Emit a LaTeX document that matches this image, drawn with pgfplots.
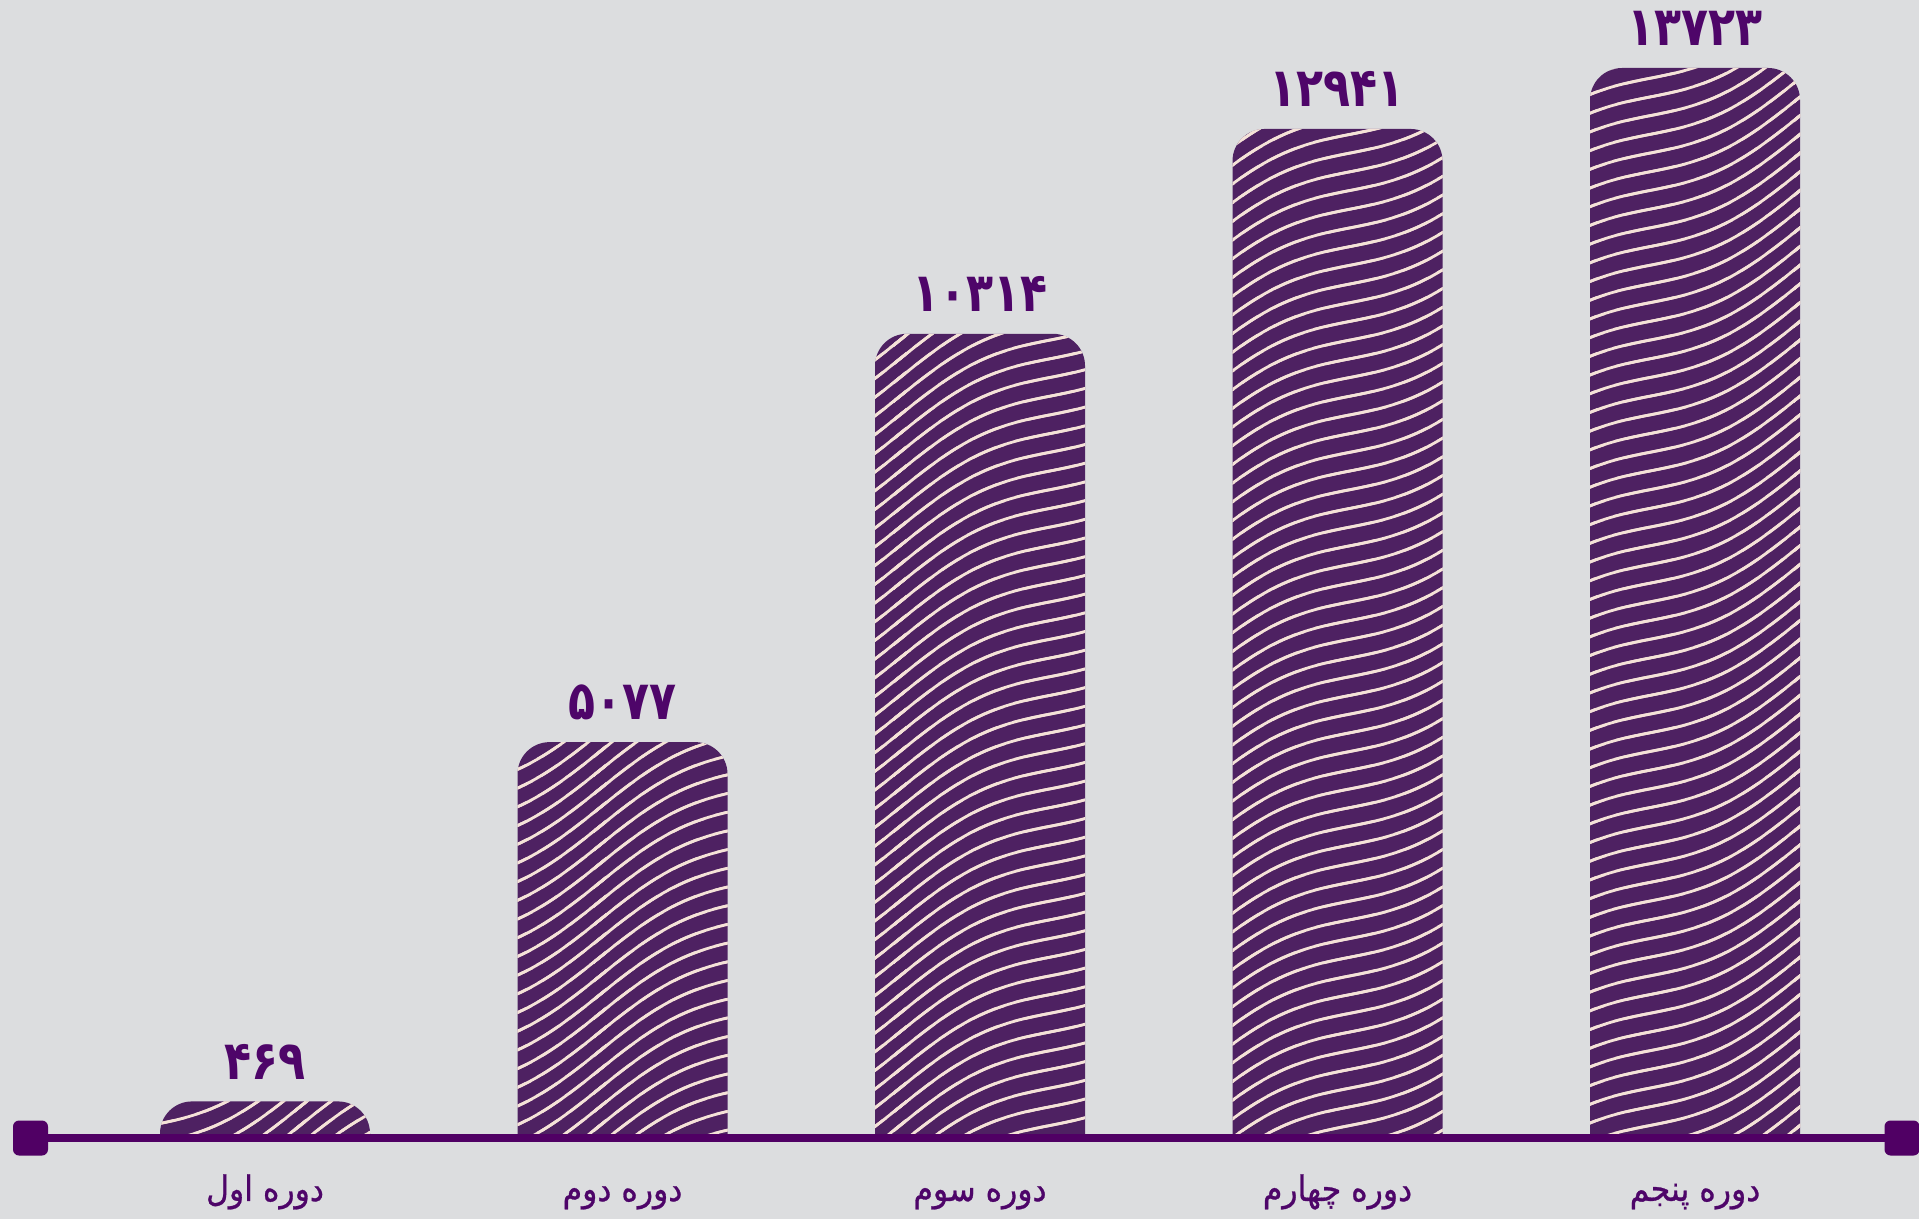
\documentclass[border=0pt]{standalone}
\usepackage{pgfplots}
\pgfplotsset{compat=1.18}
\usetikzlibrary{patterns.meta}
\usepackage{fontspec}
\TeXXeTstate=1
\newfontfamily\arabicfont[Script=Arabic,FakeStretch=0.9,FakeBold=0.8]{DejaVu Sans}
\newfontfamily\numfont[Script=Arabic,FakeStretch=0.82]{DejaVu Sans}

\definecolor{bgcol}{RGB}{220,221,223}
\definecolor{barcol}{RGB}{78,33,98}
\definecolor{linecol}{RGB}{245,226,216}
\definecolor{axiscol}{RGB}{80,0,100}
\definecolor{textcol}{RGB}{78,5,105}

% wavy lines for the bars (1px = 0.5pt)
\tikzdeclarepattern{
  name=waves,
  type=uncolored,
  bounding box={(-3pt,-3pt) and (153pt,12.35pt)},
  tile size={(150pt,9.35pt)},
  code={
    \foreach \k in {-2,...,10} {
      \draw[line width=1.4pt] plot[domain=-5:155, samples=70, smooth, variable=\t]
        ({\t*1pt},{(0.4987*\t + 7.2*sin(2.4*\t) - \k*9.35)*1pt});
    }
  }
}

\begin{document}
\begin{tikzpicture}
  \fill[bgcol, use as bounding box] (0pt,0pt) rectangle (959.5pt,-609.5pt);
  \begin{axis}[
    name=ax,
    at={(15.25pt,-646.97pt)}, anchor=south west,
    scale only axis,
    width=935.75pt, height=646.97pt,
    xmin=-0.656, xmax=4.579,
    ymin=0, ymax=16595,
    y filter/.expression={y+2000},
    axis x line*=bottom,
    axis y line=none,
    x axis line style={draw=none},
    xtick={0,1,2,3,4},
    xticklabels={{\beginR دوره اول\endR},{\beginR دوره دوم\endR},{\beginR دوره سوم\endR},{\beginR دوره چهارم\endR},{\beginR دوره پنجم\endR}},
    xticklabel style={font=\arabicfont\fontsize{17.5}{19}\selectfont, text=textcol, inner sep=0pt, anchor=base, yshift=46.5pt},
    major tick length=0pt,
    ytick=\empty,
    ybar, bar width=105pt,
    point meta=explicit symbolic,
    nodes near coords,
    every node near coord/.append style={font=\numfont\bfseries\fontsize{27}{29}\selectfont, text=textcol, anchor=south, inner sep=0pt, yshift=11pt},
  ]
    \addplot[fill=barcol, draw=none, rounded corners=16pt,
      postaction={pattern=waves, pattern color=linecol},
      execute at begin plot visualization={\clip (axis cs:-1,2000) rectangle (axis cs:5,17000);}]
      coordinates {
        (0,469) [۴۶۹]
        (1,5077) [۵۰۷۷]
        (2,10314) [۱۰۳۱۴]
        (3,12941) [۱۲۹۴۱]
        (4,13723) [۱۳۷۲۳]
      };
  \end{axis}
  % axis line with square ends
  \draw[axiscol, line width=3.75pt] (15.25pt,-569pt) -- (951pt,-569pt);
  \fill[axiscol, rounded corners=3pt] (6.5pt,-560.25pt) rectangle (24pt,-577.75pt);
  \fill[axiscol, rounded corners=3pt] (942.25pt,-560.25pt) rectangle (959.75pt,-577.75pt);
\end{tikzpicture}
\end{document}
